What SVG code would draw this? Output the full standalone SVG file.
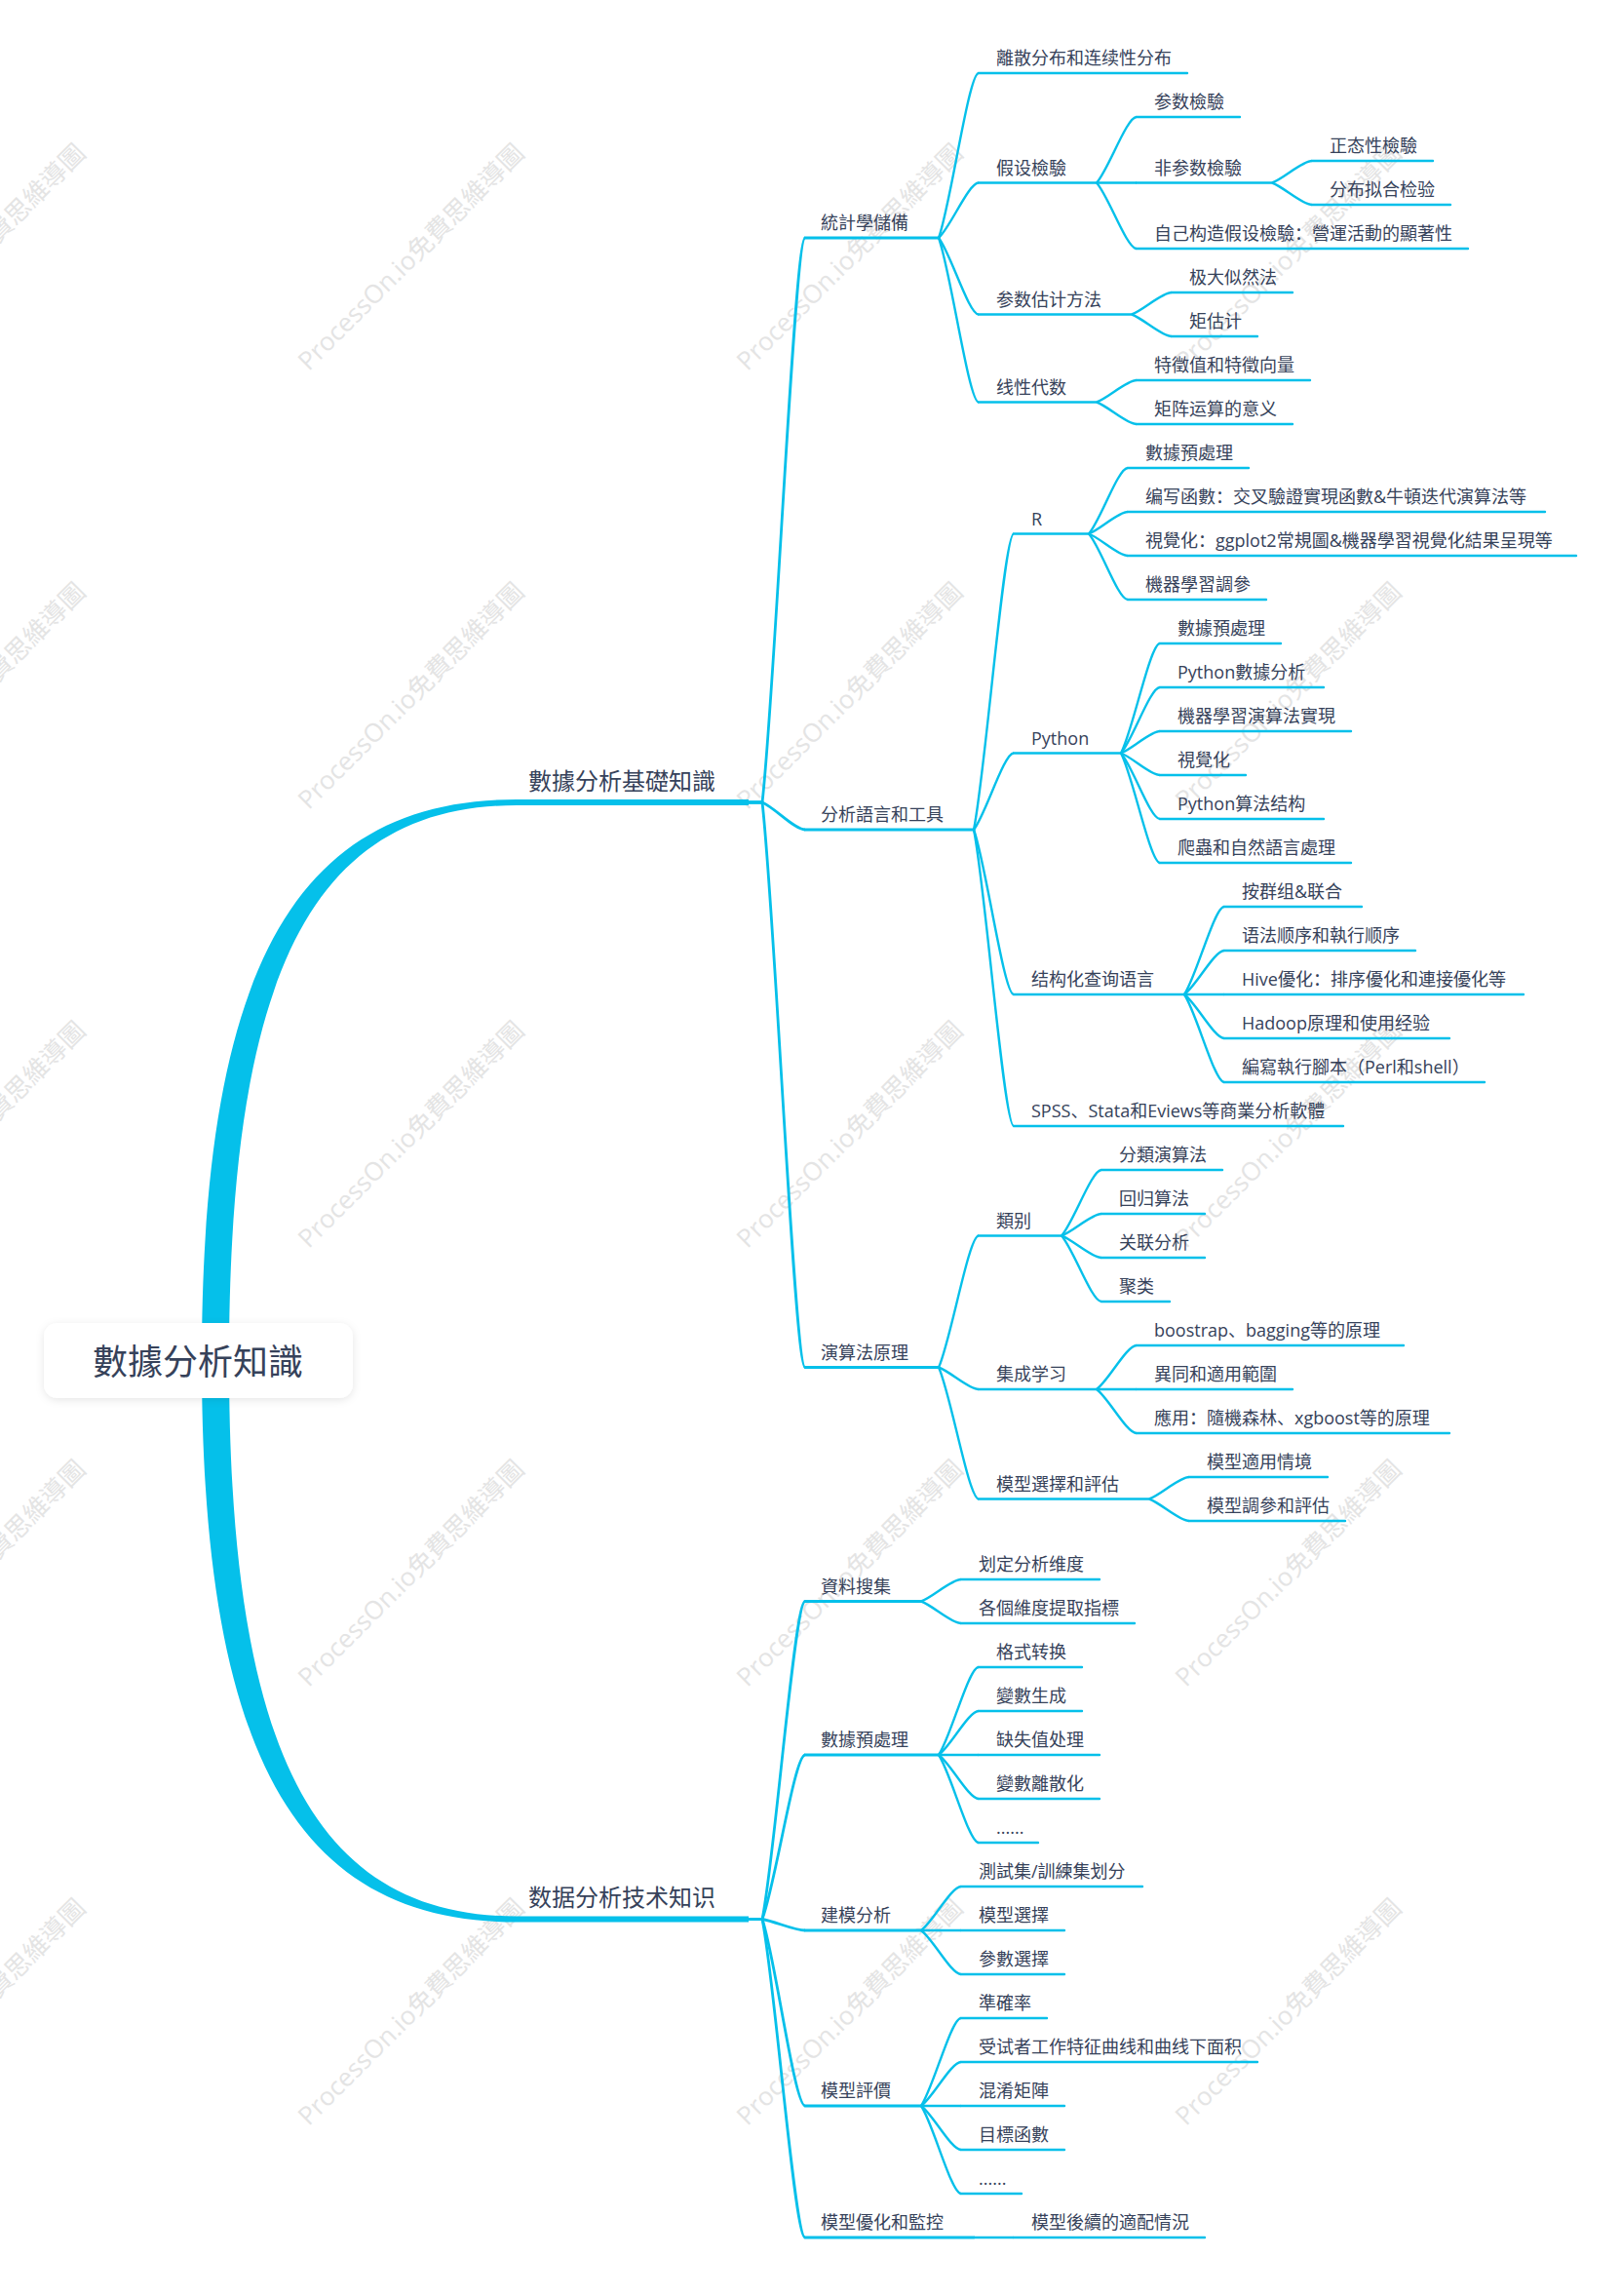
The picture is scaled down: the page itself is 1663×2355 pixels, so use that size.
<svg xmlns="http://www.w3.org/2000/svg" width="1663" height="2355" viewBox="0 0 1663 2355">
<style>
.t{font-family:"Open Sans","Noto Sans CJK SC",sans-serif;font-size:18px;fill:#36425a}
.t1{font-family:"Open Sans","Noto Sans CJK SC",sans-serif;font-size:24px;fill:#36425a}
.t0{font-family:"Open Sans","Noto Sans CJK SC",sans-serif;font-size:36px;fill:#36425a;text-anchor:middle}
.u{fill:none;stroke:#05c0ea;stroke-width:2.4;stroke-linecap:round}
.u2{fill:none;stroke:#05c0ea;stroke-width:2.8;stroke-linecap:round}
.c{fill:none;stroke:#05c0ea;stroke-width:2.4}
.c2{fill:none;stroke:#05c0ea;stroke-width:2.8}
.trunk{fill:#05c0ea}
.wm{font-family:"Open Sans","Noto Sans CJK SC",sans-serif;font-size:26px;fill:#e4e4e4;text-anchor:middle}
</style>
<defs>
<filter id="sh" x="-10%" y="-30%" width="120%" height="160%">
<feDropShadow dx="0" dy="2" stdDeviation="4" flood-color="#000" flood-opacity="0.10"/>
</filter>
</defs>
<rect width="1663" height="2355" fill="#ffffff"/>
<g id="watermark">
<text class="wm" transform="translate(-22 270) rotate(-45)">ProcessOn.io免費思維導圖</text>
<text class="wm" transform="translate(428 270) rotate(-45)">ProcessOn.io免費思維導圖</text>
<text class="wm" transform="translate(878 270) rotate(-45)">ProcessOn.io免費思維導圖</text>
<text class="wm" transform="translate(1328 270) rotate(-45)">ProcessOn.io免費思維導圖</text>
<text class="wm" transform="translate(-22 720) rotate(-45)">ProcessOn.io免費思維導圖</text>
<text class="wm" transform="translate(428 720) rotate(-45)">ProcessOn.io免費思維導圖</text>
<text class="wm" transform="translate(878 720) rotate(-45)">ProcessOn.io免費思維導圖</text>
<text class="wm" transform="translate(1328 720) rotate(-45)">ProcessOn.io免費思維導圖</text>
<text class="wm" transform="translate(-22 1170) rotate(-45)">ProcessOn.io免費思維導圖</text>
<text class="wm" transform="translate(428 1170) rotate(-45)">ProcessOn.io免費思維導圖</text>
<text class="wm" transform="translate(878 1170) rotate(-45)">ProcessOn.io免費思維導圖</text>
<text class="wm" transform="translate(1328 1170) rotate(-45)">ProcessOn.io免費思維導圖</text>
<text class="wm" transform="translate(-22 1620) rotate(-45)">ProcessOn.io免費思維導圖</text>
<text class="wm" transform="translate(428 1620) rotate(-45)">ProcessOn.io免費思維導圖</text>
<text class="wm" transform="translate(878 1620) rotate(-45)">ProcessOn.io免費思維導圖</text>
<text class="wm" transform="translate(1328 1620) rotate(-45)">ProcessOn.io免費思維導圖</text>
<text class="wm" transform="translate(-22 2070) rotate(-45)">ProcessOn.io免費思維導圖</text>
<text class="wm" transform="translate(428 2070) rotate(-45)">ProcessOn.io免費思維導圖</text>
<text class="wm" transform="translate(878 2070) rotate(-45)">ProcessOn.io免費思維導圖</text>
<text class="wm" transform="translate(1328 2070) rotate(-45)">ProcessOn.io免費思維導圖</text>
</g>
<g id="connectors">
<path class="trunk" d="M207 1396 C207 990 305 820 530 820 L768 820 L768 826 L530 826 C320 826 235 1000 235 1396 Z"/>
<path class="trunk" d="M207 1395.5 C207 1801.5 305 1971.5 530 1971.5 L768 1971.5 L768 1965.5 L530 1965.5 C320 1965.5 235 1791.5 235 1395.5 Z"/>
<path class="c2" d="M768 823H782C795.2 707.2 815 244 826 244"/>
<path class="c2" d="M768 823H782C795.2 828.6 815 851 826 851"/>
<path class="c2" d="M768 823H782C795.2 938.9 815 1402.5 826 1402.5"/>
<path class="c2" d="M768 1968.5H782C795.2 1903.3 815 1642.5 826 1642.5"/>
<path class="c2" d="M768 1968.5H782C795.2 1934.8 815 1800 826 1800"/>
<path class="c2" d="M768 1968.5H782C795.2 1970.8 815 1980 826 1980"/>
<path class="c2" d="M768 1968.5H782C795.2 2006.8 815 2160 826 2160"/>
<path class="c2" d="M768 1968.5H782C795.2 2033.8 815 2295 826 2295"/>
<path class="c" d="M963 244C975.3 210.2 993.8 75 1004 75"/>
<path class="c" d="M963 244C975.3 232.7 993.8 187.5 1004 187.5"/>
<path class="c" d="M963 244C975.3 259.7 993.8 322.5 1004 322.5"/>
<path class="c" d="M963 244C975.3 277.7 993.8 412.5 1004 412.5"/>
<path class="c" d="M1125 187.5C1137.3 174 1155.8 120 1166 120"/>
<path class="c" d="M1125 187.5H1166"/>
<path class="c" d="M1125 187.5C1137.3 201 1155.8 255 1166 255"/>
<path class="c" d="M1305 187.5C1317.3 183 1335.8 165 1346 165"/>
<path class="c" d="M1305 187.5C1317.3 192 1335.8 210 1346 210"/>
<path class="c" d="M1161 322.5C1173.3 318 1191.8 300 1202 300"/>
<path class="c" d="M1161 322.5C1173.3 327 1191.8 345 1202 345"/>
<path class="c" d="M1125 412.5C1137.3 408 1155.8 390 1166 390"/>
<path class="c" d="M1125 412.5C1137.3 417 1155.8 435 1166 435"/>
<path class="c" d="M999 851C1011.3 790.3 1029.8 547.5 1040 547.5"/>
<path class="c" d="M999 851C1011.3 835.3 1029.8 772.5 1040 772.5"/>
<path class="c" d="M999 851C1011.3 884.8 1029.8 1020 1040 1020"/>
<path class="c" d="M999 851C1011.3 911.8 1029.8 1155 1040 1155"/>
<path class="c" d="M1117 547.5C1129 534 1147 480 1157 480"/>
<path class="c" d="M1117 547.5C1129 543 1147 525 1157 525"/>
<path class="c" d="M1117 547.5C1129 552 1147 570 1157 570"/>
<path class="c" d="M1117 547.5C1129 561 1147 615 1157 615"/>
<path class="c" d="M1150 772.5C1162 750 1180 660 1190 660"/>
<path class="c" d="M1150 772.5C1162 759 1180 705 1190 705"/>
<path class="c" d="M1150 772.5C1162 768 1180 750 1190 750"/>
<path class="c" d="M1150 772.5C1162 777 1180 795 1190 795"/>
<path class="c" d="M1150 772.5C1162 786 1180 840 1190 840"/>
<path class="c" d="M1150 772.5C1162 795 1180 885 1190 885"/>
<path class="c" d="M1215 1020C1227.3 1002 1245.8 930 1256 930"/>
<path class="c" d="M1215 1020C1227.3 1011 1245.8 975 1256 975"/>
<path class="c" d="M1215 1020H1256"/>
<path class="c" d="M1215 1020C1227.3 1029 1245.8 1065 1256 1065"/>
<path class="c" d="M1215 1020C1227.3 1038 1245.8 1110 1256 1110"/>
<path class="c" d="M963 1402.5C975.3 1375.5 993.8 1267.5 1004 1267.5"/>
<path class="c" d="M963 1402.5C975.3 1407 993.8 1425 1004 1425"/>
<path class="c" d="M963 1402.5C975.3 1429.5 993.8 1537.5 1004 1537.5"/>
<path class="c" d="M1089 1267.5C1101.3 1254 1119.8 1200 1130 1200"/>
<path class="c" d="M1089 1267.5C1101.3 1263 1119.8 1245 1130 1245"/>
<path class="c" d="M1089 1267.5C1101.3 1272 1119.8 1290 1130 1290"/>
<path class="c" d="M1089 1267.5C1101.3 1281 1119.8 1335 1130 1335"/>
<path class="c" d="M1125 1425C1137.3 1416 1155.8 1380 1166 1380"/>
<path class="c" d="M1125 1425H1166"/>
<path class="c" d="M1125 1425C1137.3 1434 1155.8 1470 1166 1470"/>
<path class="c" d="M1179 1537.5C1191.3 1533 1209.8 1515 1220 1515"/>
<path class="c" d="M1179 1537.5C1191.3 1542 1209.8 1560 1220 1560"/>
<path class="c" d="M945 1642.5C957.3 1638 975.8 1620 986 1620"/>
<path class="c" d="M945 1642.5C957.3 1647 975.8 1665 986 1665"/>
<path class="c" d="M963 1800C975.3 1782 993.8 1710 1004 1710"/>
<path class="c" d="M963 1800C975.3 1791 993.8 1755 1004 1755"/>
<path class="c" d="M963 1800H1004"/>
<path class="c" d="M963 1800C975.3 1809 993.8 1845 1004 1845"/>
<path class="c" d="M963 1800C975.3 1818 993.8 1890 1004 1890"/>
<path class="c" d="M945 1980C957.3 1971 975.8 1935 986 1935"/>
<path class="c" d="M945 1980H986"/>
<path class="c" d="M945 1980C957.3 1989 975.8 2025 986 2025"/>
<path class="c" d="M945 2160C957.3 2142 975.8 2070 986 2070"/>
<path class="c" d="M945 2160C957.3 2151 975.8 2115 986 2115"/>
<path class="c" d="M945 2160H986"/>
<path class="c" d="M945 2160C957.3 2169 975.8 2205 986 2205"/>
<path class="c" d="M945 2160C957.3 2178 975.8 2250 986 2250"/>
<path class="c" d="M999 2295H1040"/>
</g>
<g id="n0"><rect x="45" y="1357" width="317" height="77" rx="14" fill="#ffffff" filter="url(#sh)"/><text class="t0" x="203" y="1410">數據分析知識</text></g>
<g id="n1"><text class="t1" x="542" y="810">數據分析基礎知識</text></g>
<g id="n2"><text class="t1" x="542" y="1955">数据分析技术知识</text></g>
<g id="n1-1"><path class="u2" d="M826 244H963"/><text class="t" x="842" y="235">統計學儲備</text></g>
<g id="n1-2"><path class="u2" d="M826 851H999"/><text class="t" x="842" y="842">分析語言和工具</text></g>
<g id="n1-3"><path class="u2" d="M826 1402.5H963"/><text class="t" x="842" y="1393.5">演算法原理</text></g>
<g id="n1-1-1"><path class="u" d="M1004 75H1218"/><text class="t" x="1022" y="66">離散分布和连续性分布</text></g>
<g id="n1-1-2"><path class="u" d="M1004 187.5H1125"/><text class="t" x="1022" y="178.5">假设檢驗</text></g>
<g id="n1-1-3"><path class="u" d="M1004 322.5H1161"/><text class="t" x="1022" y="313.5">参数估计方法</text></g>
<g id="n1-1-4"><path class="u" d="M1004 412.5H1125"/><text class="t" x="1022" y="403.5">线性代数</text></g>
<g id="n1-1-2-1"><path class="u" d="M1166 120H1272"/><text class="t" x="1184" y="111">参数檢驗</text></g>
<g id="n1-1-2-2"><path class="u" d="M1166 187.5H1305"/><text class="t" x="1184" y="178.5">非参数檢驗</text></g>
<g id="n1-1-2-3"><path class="u" d="M1166 255H1506"/><text class="t" x="1184" y="246">自己构造假设檢驗：營運活動的顯著性</text></g>
<g id="n1-1-2-2-1"><path class="u" d="M1346 165H1470"/><text class="t" x="1364" y="156">正态性檢驗</text></g>
<g id="n1-1-2-2-2"><path class="u" d="M1346 210H1488"/><text class="t" x="1364" y="201">分布拟合检验</text></g>
<g id="n1-1-3-1"><path class="u" d="M1202 300H1326"/><text class="t" x="1220" y="291">极大似然法</text></g>
<g id="n1-1-3-2"><path class="u" d="M1202 345H1290"/><text class="t" x="1220" y="336">矩估计</text></g>
<g id="n1-1-4-1"><path class="u" d="M1166 390H1344"/><text class="t" x="1184" y="381">特徵值和特徵向量</text></g>
<g id="n1-1-4-2"><path class="u" d="M1166 435H1326"/><text class="t" x="1184" y="426">矩阵运算的意义</text></g>
<g id="n1-2-1"><path class="u" d="M1040 547.5H1117"/><text class="t" x="1058" y="538.5">R</text></g>
<g id="n1-2-2"><path class="u" d="M1040 772.5H1150"/><text class="t" x="1058" y="763.5">Python</text></g>
<g id="n1-2-3"><path class="u" d="M1040 1020H1215"/><text class="t" x="1058" y="1011">结构化查询语言</text></g>
<g id="n1-2-4"><path class="u" d="M1040 1155H1378"/><text class="t" x="1058" y="1146">SPSS、Stata和Eviews等商業分析軟體</text></g>
<g id="n1-2-1-1"><path class="u" d="M1157 480H1281"/><text class="t" x="1175" y="471">數據預處理</text></g>
<g id="n1-2-1-2"><path class="u" d="M1157 525H1585"/><text class="t" x="1175" y="516">编写函數：交叉驗證實現函數&amp;牛頓迭代演算法等</text></g>
<g id="n1-2-1-3"><path class="u" d="M1157 570H1617"/><text class="t" x="1175" y="561">視覺化：ggplot2常規圖&amp;機器學習視覺化結果呈現等</text></g>
<g id="n1-2-1-4"><path class="u" d="M1157 615H1299"/><text class="t" x="1175" y="606">機器學習調參</text></g>
<g id="n1-2-2-1"><path class="u" d="M1190 660H1314"/><text class="t" x="1208" y="651">數據預處理</text></g>
<g id="n1-2-2-2"><path class="u" d="M1190 705H1358"/><text class="t" x="1208" y="696">Python數據分析</text></g>
<g id="n1-2-2-3"><path class="u" d="M1190 750H1386"/><text class="t" x="1208" y="741">機器學習演算法實現</text></g>
<g id="n1-2-2-4"><path class="u" d="M1190 795H1278"/><text class="t" x="1208" y="786">視覺化</text></g>
<g id="n1-2-2-5"><path class="u" d="M1190 840H1358"/><text class="t" x="1208" y="831">Python算法结构</text></g>
<g id="n1-2-2-6"><path class="u" d="M1190 885H1386"/><text class="t" x="1208" y="876">爬蟲和自然語言處理</text></g>
<g id="n1-2-3-1"><path class="u" d="M1256 930H1397"/><text class="t" x="1274" y="921">按群组&amp;联合</text></g>
<g id="n1-2-3-2"><path class="u" d="M1256 975H1452"/><text class="t" x="1274" y="966">语法顺序和執行顺序</text></g>
<g id="n1-2-3-3"><path class="u" d="M1256 1020H1563"/><text class="t" x="1274" y="1011">Hive優化：排序優化和連接優化等</text></g>
<g id="n1-2-3-4"><path class="u" d="M1256 1065H1487"/><text class="t" x="1274" y="1056">Hadoop原理和使用经验</text></g>
<g id="n1-2-3-5"><path class="u" d="M1256 1110H1523"/><text class="t" x="1274" y="1101">編寫執行腳本（Perl和shell）</text></g>
<g id="n1-3-1"><path class="u" d="M1004 1267.5H1089"/><text class="t" x="1022" y="1258.5">類别</text></g>
<g id="n1-3-2"><path class="u" d="M1004 1425H1125"/><text class="t" x="1022" y="1416">集成学习</text></g>
<g id="n1-3-3"><path class="u" d="M1004 1537.5H1179"/><text class="t" x="1022" y="1528.5">模型選擇和評估</text></g>
<g id="n1-3-1-1"><path class="u" d="M1130 1200H1254"/><text class="t" x="1148" y="1191">分類演算法</text></g>
<g id="n1-3-1-2"><path class="u" d="M1130 1245H1236"/><text class="t" x="1148" y="1236">回归算法</text></g>
<g id="n1-3-1-3"><path class="u" d="M1130 1290H1236"/><text class="t" x="1148" y="1281">关联分析</text></g>
<g id="n1-3-1-4"><path class="u" d="M1130 1335H1200"/><text class="t" x="1148" y="1326">聚类</text></g>
<g id="n1-3-2-1"><path class="u" d="M1166 1380H1440"/><text class="t" x="1184" y="1371">boostrap、bagging等的原理</text></g>
<g id="n1-3-2-2"><path class="u" d="M1166 1425H1326"/><text class="t" x="1184" y="1416">異同和適用範圍</text></g>
<g id="n1-3-2-3"><path class="u" d="M1166 1470H1487"/><text class="t" x="1184" y="1461">應用：隨機森林、xgboost等的原理</text></g>
<g id="n1-3-3-1"><path class="u" d="M1220 1515H1362"/><text class="t" x="1238" y="1506">模型適用情境</text></g>
<g id="n1-3-3-2"><path class="u" d="M1220 1560H1380"/><text class="t" x="1238" y="1551">模型調參和評估</text></g>
<g id="n2-1"><path class="u2" d="M826 1642.5H945"/><text class="t" x="842" y="1633.5">資料搜集</text></g>
<g id="n2-2"><path class="u2" d="M826 1800H963"/><text class="t" x="842" y="1791">數據預處理</text></g>
<g id="n2-3"><path class="u2" d="M826 1980H945"/><text class="t" x="842" y="1971">建模分析</text></g>
<g id="n2-4"><path class="u2" d="M826 2160H945"/><text class="t" x="842" y="2151">模型評價</text></g>
<g id="n2-5"><path class="u2" d="M826 2295H999"/><text class="t" x="842" y="2286">模型優化和監控</text></g>
<g id="n2-1-1"><path class="u" d="M986 1620H1128"/><text class="t" x="1004" y="1611">划定分析维度</text></g>
<g id="n2-1-2"><path class="u" d="M986 1665H1164"/><text class="t" x="1004" y="1656">各個維度提取指標</text></g>
<g id="n2-2-1"><path class="u" d="M1004 1710H1110"/><text class="t" x="1022" y="1701">格式转换</text></g>
<g id="n2-2-2"><path class="u" d="M1004 1755H1110"/><text class="t" x="1022" y="1746">變數生成</text></g>
<g id="n2-2-3"><path class="u" d="M1004 1800H1128"/><text class="t" x="1022" y="1791">缺失值处理</text></g>
<g id="n2-2-4"><path class="u" d="M1004 1845H1128"/><text class="t" x="1022" y="1836">變數離散化</text></g>
<g id="n2-2-5"><path class="u" d="M1004 1890H1065"/><text class="t" x="1022" y="1881">......</text></g>
<g id="n2-3-1"><path class="u" d="M986 1935H1172"/><text class="t" x="1004" y="1926">測試集/訓練集划分</text></g>
<g id="n2-3-2"><path class="u" d="M986 1980H1092"/><text class="t" x="1004" y="1971">模型選擇</text></g>
<g id="n2-3-3"><path class="u" d="M986 2025H1092"/><text class="t" x="1004" y="2016">參數選擇</text></g>
<g id="n2-4-1"><path class="u" d="M986 2070H1074"/><text class="t" x="1004" y="2061">準確率</text></g>
<g id="n2-4-2"><path class="u" d="M986 2115H1290"/><text class="t" x="1004" y="2106">受试者工作特征曲线和曲线下面积</text></g>
<g id="n2-4-3"><path class="u" d="M986 2160H1092"/><text class="t" x="1004" y="2151">混淆矩陣</text></g>
<g id="n2-4-4"><path class="u" d="M986 2205H1092"/><text class="t" x="1004" y="2196">目標函數</text></g>
<g id="n2-4-5"><path class="u" d="M986 2250H1048"/><text class="t" x="1004" y="2241">......</text></g>
<g id="n2-5-1"><path class="u" d="M1040 2295H1236"/><text class="t" x="1058" y="2286">模型後續的適配情況</text></g>
</svg>
